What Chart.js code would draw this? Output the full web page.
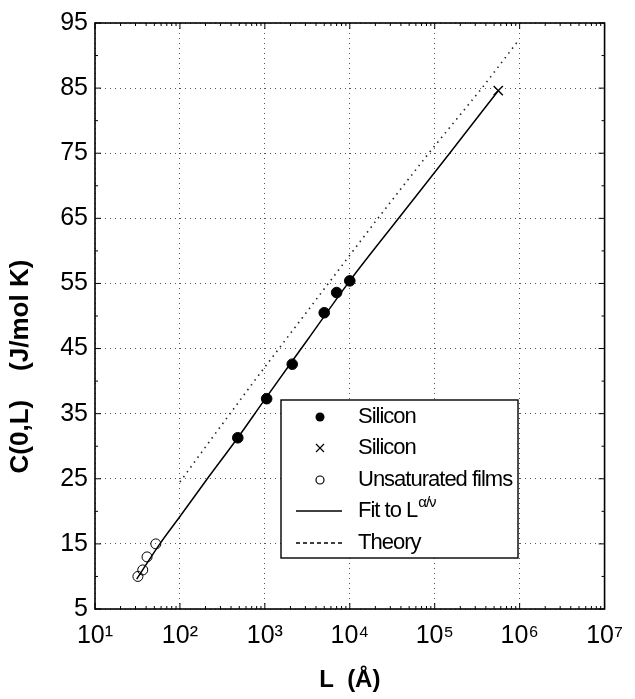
<!DOCTYPE html>
<html>
<head>
<meta charset="utf-8">
<script src="https://cdn.jsdelivr.net/npm/chart.js@4/dist/chart.umd.min.js"></script>
<style>
  html, body { margin: 0; padding: 0; background: #fff; }
  #wrap { width: 635px; height: 699px; }
</style>
</head>
<body>
<div id="wrap"><canvas id="c" width="635" height="699"></canvas></div>
<script>
// ---- data ----
const siliconL = [480, 1050, 2100, 5000, 7000, 10000];
const siliconC = [31.3, 37.3, 42.6, 50.5, 53.6, 55.4];
const siliconXL = [560000];
const siliconXC = [84.6];
const unsatL = [32, 36.5, 41, 52];
const unsatC = [10.0, 11.0, 13.0, 15.0];
const fitL = [31, 58, 100, 210, 480, 1000, 3200, 10000, 36000, 150000, 560000];
const fitC = [9.6, 15.0, 19.2, 25.0, 31.3, 37.2, 46.4, 55.4, 64.7, 75.0, 84.6];
const theoryL = [100, 240, 720, 20000, 85000, 360000, 980000];
const theoryC = [24.5, 31.3, 39.7, 64.5, 75.0, 85.0, 92.4];
const xDecades = [1, 2, 3, 4, 5, 6, 7];
const yTicks = [5, 15, 25, 35, 45, 55, 65, 75, 85, 95];
const legendLabels = ['Silicon', 'Silicon', 'Unsaturated films', 'Fit to L', 'Theory'];

const FONT = "'Liberation Sans', Arial, Helvetica, sans-serif";
const SUP = {'1':'\u00B9','2':'\u00B2','3':'\u00B3','4':'\u2074','5':'\u2075','6':'\u2076','7':'\u2077'};
const pts = (xs, ys) => xs.map((x, i) => ({x: x, y: ys[i]}));

const framePlugin = {
  id: 'frame',
  afterDraw(chart) {
    const {ctx, chartArea: a, scales} = chart;
    ctx.save();
    ctx.strokeStyle = '#000';
    ctx.lineWidth = 1.6;
    ctx.strokeRect(a.left, a.top, a.right - a.left, a.bottom - a.top);
    ctx.lineWidth = 1;
    const xs = scales.x, ys = scales.y;
    xDecades.forEach(e => {
      const px = xs.getPixelForValue(Math.pow(10, e));
      ctx.beginPath();
      ctx.moveTo(px, a.bottom); ctx.lineTo(px, a.bottom - 6);
      ctx.moveTo(px, a.top); ctx.lineTo(px, a.top + 6);
      ctx.stroke();
      if (e < 7) {
        for (let m = 2; m <= 9; m++) {
          const mx = xs.getPixelForValue(m * Math.pow(10, e));
          ctx.beginPath();
          ctx.moveTo(mx, a.bottom); ctx.lineTo(mx, a.bottom - 3);
          ctx.moveTo(mx, a.top); ctx.lineTo(mx, a.top + 3);
          ctx.stroke();
        }
      }
    });
    yTicks.forEach(v => {
      const py = ys.getPixelForValue(v);
      ctx.beginPath();
      ctx.moveTo(a.left, py); ctx.lineTo(a.left + 6, py);
      ctx.moveTo(a.right, py); ctx.lineTo(a.right - 6, py);
      ctx.stroke();
      if (v < 95) {
        const pm = ys.getPixelForValue(v + 5);
        ctx.beginPath();
        ctx.moveTo(a.left, pm); ctx.lineTo(a.left + 3, pm);
        ctx.moveTo(a.right, pm); ctx.lineTo(a.right - 3, pm);
        ctx.stroke();
      }
    });
    ctx.restore();
  }
};

const legendPlugin = {
  id: 'boxLegend',
  afterDatasetsDraw(chart) {
    const ctx = chart.ctx;
    const L = 281, T = 400, R = 518, B = 558;
    ctx.save();
    ctx.fillStyle = '#fff';
    ctx.fillRect(L, T, R - L, B - T);
    ctx.strokeStyle = '#000';
    ctx.lineWidth = 1.4;
    ctx.strokeRect(L, T, R - L, B - T);
    const rows = [417, 448, 480, 511, 543];
    const sx = 320, tx = 358;
    ctx.fillStyle = '#000';
    ctx.lineWidth = 1.2;
    ctx.beginPath(); ctx.arc(sx, rows[0], 4.5, 0, Math.PI * 2); ctx.fill();
    ctx.beginPath();
    ctx.moveTo(sx - 4, rows[1] - 4); ctx.lineTo(sx + 4, rows[1] + 4);
    ctx.moveTo(sx + 4, rows[1] - 4); ctx.lineTo(sx - 4, rows[1] + 4);
    ctx.stroke();
    ctx.beginPath(); ctx.arc(sx, rows[2], 4, 0, Math.PI * 2); ctx.stroke();
    ctx.lineWidth = 1.3;
    ctx.beginPath(); ctx.moveTo(296, rows[3]); ctx.lineTo(342, rows[3]); ctx.stroke();
    ctx.setLineDash([4, 3]);
    ctx.beginPath(); ctx.moveTo(296, rows[4]); ctx.lineTo(342, rows[4]); ctx.stroke();
    ctx.setLineDash([]);
    ctx.font = '22px ' + FONT;
    try { ctx.letterSpacing = '-1px'; } catch (e) {}
    ctx.textBaseline = 'middle';
    ctx.textAlign = 'left';
    legendLabels.forEach((t, i) => ctx.fillText(t, tx, rows[i]));
    const w = ctx.measureText(legendLabels[3]).width;
    ctx.font = '15px ' + FONT;
    ctx.fillText('\u03B1/\u03BD', tx + w + 1, rows[3] - 8);
    ctx.restore();
  }
};

new Chart(document.getElementById('c'), {
  type: 'scatter',
  data: {
    datasets: [
      { label: 'Fit', data: pts(fitL, fitC), showLine: true, borderColor: '#000', borderWidth: 1.5,
        pointRadius: 0, cubicInterpolationMode: 'monotone', fill: false, order: 3 },
      { label: 'Theory', data: pts(theoryL, theoryC), showLine: true, borderColor: '#222', borderWidth: 1.6,
        borderDash: [1.5, 4.5], pointRadius: 0, tension: 0, fill: false, order: 4 },
      { label: 'Silicon', data: pts(siliconL, siliconC), backgroundColor: '#000', borderColor: '#000',
        pointRadius: 5.3, pointStyle: 'circle', order: 1 },
      { label: 'Silicon', data: pts(siliconXL, siliconXC), borderColor: '#000', borderWidth: 1.4,
        pointRadius: 6.5, pointStyle: 'cross', rotation: 45, order: 1 },
      { label: 'Unsaturated films', data: pts(unsatL, unsatC), backgroundColor: 'rgba(0,0,0,0)', borderColor: '#000',
        borderWidth: 1, pointRadius: 5, pointStyle: 'circle', order: 2 }
    ]
  },
  options: {
    responsive: false,
    animation: false,
    devicePixelRatio: 1,
    layout: { padding: { top: 23, right: 28, bottom: 0, left: 0 } },
    plugins: { legend: { display: false }, tooltip: { enabled: false } },
    scales: {
      x: {
        type: 'logarithmic', min: 10, max: 1e7,
        afterBuildTicks: s => { s.ticks = xDecades.map(e => ({ value: Math.pow(10, e) })); },
        afterFit: s => { s.height = 90; },
        ticks: {
          color: '#000', font: { family: FONT, size: 25 }, padding: 12, maxRotation: 0, autoSkip: false,
          callback: v => { const e = Math.round(Math.log10(v)); return '10' + SUP[String(e)]; }
        },
        grid: { color: '#555', lineWidth: 1, drawTicks: false },
        border: { display: false, dash: [1, 4] },
        title: { display: true, text: 'L  (Å)', color: '#000',
          font: { family: FONT, size: 24, weight: 'bold' }, padding: { top: 0, bottom: 4 } }
      },
      y: {
        type: 'linear', min: 5, max: 95,
        afterBuildTicks: s => { s.ticks = yTicks.map(v => ({ value: v })); },
        afterFit: s => { s.width = 95; },
        ticks: { color: '#000', font: { family: FONT, size: 25 }, padding: 7 },
        grid: { color: '#555', lineWidth: 1, drawTicks: false },
        border: { display: false, dash: [1, 4] },
        title: { display: true, text: 'C(0,L)    (J/mol K)' + '              ', color: '#000',
          font: { family: FONT, size: 26, weight: 'bold' }, padding: { top: 5, bottom: 0 } }
      }
    }
  },
  plugins: [framePlugin, legendPlugin]
});
</script>
</body>
</html>
